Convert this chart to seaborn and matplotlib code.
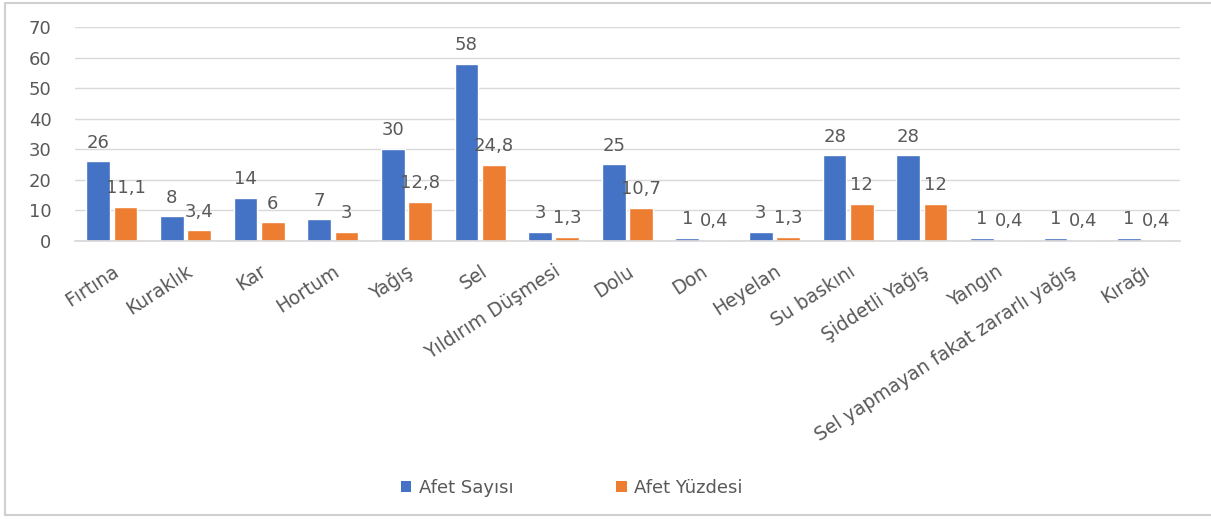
import matplotlib
matplotlib.use("Agg")
import matplotlib.pyplot as plt
import seaborn as sns
import pandas as pd
from matplotlib.lines import Line2D
from matplotlib.patches import Patch

categories = ["Fırtına", "Kuraklık", "Kar", "Hortum", "Yağış", "Sel",
              "Yıldırım Düşmesi", "Dolu", "Don", "Heyelan", "Su baskını",
              "Şiddetli Yağış", "Yangın", "Sel yapmayan fakat zararlı yağış",
              "Kırağı"]
afet_sayisi = [26, 8, 14, 7, 30, 58, 3, 25, 1, 3, 28, 28, 1, 1, 1]
afet_yuzdesi = [11.1, 3.4, 6, 3, 12.8, 24.8, 1.3, 10.7, 0.4, 1.3, 12, 12, 0.4, 0.4, 0.4]
series_names = ["Afet Sayısı", "Afet Yüzdesi"]
y_ticks = [0, 10, 20, 30, 40, 50, 60, 70]

df = pd.DataFrame({
    "Afet": categories * 2,
    "Seri": [series_names[0]] * len(categories) + [series_names[1]] * len(categories),
    "Değer": afet_sayisi + afet_yuzdesi,
})

sns.set_theme(style="white")
plt.rcParams["font.family"] = ["DejaVu Sans"]

text_color = "#595959"
colors = ["#4472C4", "#ED7D31"]

fig = plt.figure(figsize=(12.11, 5.19), dpi=100)
ax = fig.add_axes([0.062, 0.536, 0.912, 0.412])

sns.barplot(data=df, x="Afet", y="Değer", hue="Seri", order=categories,
            hue_order=series_names, palette=colors, width=0.74, gap=0.13,
            saturation=1, ax=ax, legend=False)

for container in ax.containers:
    ax.bar_label(container, labels=[f"{v:g}".replace(".", ",") for v in container.datavalues],
                 padding=7, fontsize=13, color=text_color)

ax.set_ylim(0, 70)
ax.set_yticks(y_ticks)
ax.set_yticklabels([str(t) for t in y_ticks], fontsize=13, color=text_color)
ax.yaxis.grid(True, color="#d9d9d9", linewidth=1)
ax.set_axisbelow(True)
ax.set_xlim(-0.5, len(categories) - 0.5)
for side in ["top", "right", "left"]:
    ax.spines[side].set_visible(False)
ax.spines["bottom"].set_color("#d9d9d9")
ax.tick_params(axis="y", length=0, pad=17)
ax.tick_params(axis="x", length=0, pad=15)
ax.set_xlabel("")
ax.set_ylabel("")
for lbl in ax.get_xticklabels():
    lbl.set_rotation(33)
    lbl.set_ha("right")
    lbl.set_rotation_mode("anchor")
    lbl.set_fontsize(13.5)
    lbl.set_color(text_color)

handles = [Patch(facecolor=c, edgecolor="none") for c in colors]
fig.legend(handles, series_names, loc="center", bbox_to_anchor=(0.472, 0.06), ncol=2,
           frameon=False, fontsize=13, labelcolor=text_color, handlelength=0.6,
           handleheight=0.6, handletextpad=0.4, columnspacing=5.7)

# outer chart frame
frame_color = "#d0d0d0"
fig.add_artist(Line2D([0.004, 0.004], [0.008, 0.994], color=frame_color, lw=1.5))
fig.add_artist(Line2D([0.004, 1.0], [0.994, 0.994], color=frame_color, lw=1.5))
fig.add_artist(Line2D([0.004, 1.0], [0.008, 0.008], color=frame_color, lw=1.5))

fig.savefig("out.png", dpi=100)
